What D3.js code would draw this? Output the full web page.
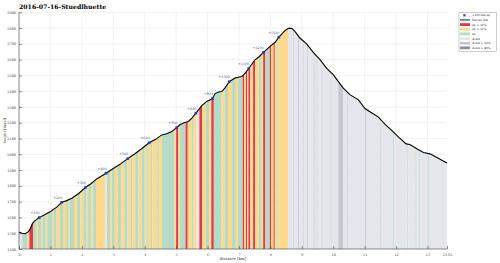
<!DOCTYPE html>
<html>
<head>
    <title>2016-07-16-Stuedlhuette</title>
    <style type="text/css">
        body { margin: 0; background: #fff; }
        svg text { font-family: "DejaVu Serif", "Liberation Serif", serif; }
        .grid line { stroke: #e9e9e9; stroke-width: 0.6; }
        .axis text { font-size: 3.4px; fill: #333; }
        .axis path, .axis line { stroke: #444; stroke-width: 0.6; }
    </style>
</head>
<body>
<script src="https://d3js.org/d3.v7.min.js" type="text/javascript"></script>
<script type="text/javascript">

    // profile: distance [km] and barometric height [masl]
    var profileKm = [0, 0.1, 0.2, 0.3, 0.36, 0.43, 0.5, 0.64, 0.8, 1.0, 1.2, 1.36, 1.5, 1.68, 1.9, 2.12,
        2.3, 2.47, 2.6, 2.77, 3.0, 3.2, 3.46, 3.7, 3.9, 4.14, 4.35, 4.54, 4.7, 4.86, 5.02, 5.12, 5.25,
        5.39, 5.5, 5.63, 5.81, 5.97, 6.15, 6.24, 6.35, 6.45, 6.55, 6.69, 6.87, 7.0, 7.09, 7.2, 7.31,
        7.51, 7.65, 7.77, 7.99, 8.15, 8.27, 8.47, 8.57, 8.68, 8.78, 8.94, 9.16, 9.37, 9.58, 9.79, 10.0,
        10.11, 10.32, 10.53, 10.8, 11.01, 11.23, 11.44, 11.65, 11.86, 12.07, 12.32, 12.44, 12.66, 12.87,
        13.08, 13.3, 13.5, 13.62];
    var profileHm = [1508, 1500, 1497, 1510, 1530, 1563, 1578, 1599, 1615, 1637, 1665, 1696, 1705, 1722,
        1752, 1791, 1815, 1844, 1860, 1880, 1910, 1935, 1973, 2005, 2035, 2073, 2095, 2123, 2130, 2144,
        2170, 2187, 2200, 2208, 2230, 2261, 2307, 2335, 2352, 2385, 2395, 2398, 2420, 2460, 2483, 2490,
        2493, 2515, 2544, 2599, 2620, 2645, 2684, 2710, 2743, 2785, 2798, 2798, 2779, 2737, 2698, 2645,
        2600, 2545, 2505, 2475, 2420, 2378, 2345, 2290, 2262, 2236, 2190, 2152, 2110, 2066, 2062, 2035,
        2012, 2003, 1980, 1958, 1945];

    // +100 hm up markers
    var upKm = [0.64, 1.36, 2.12, 2.77, 3.46, 4.14, 5.02, 5.63, 6.15, 6.69, 7.31, 7.77, 8.27];
    var upHm = [1599, 1696, 1791, 1880, 1973, 2073, 2170, 2261, 2352, 2460, 2544, 2645, 2743];
    var upLabels = ['+100', '+200', '+300', '+400', '+500', '+600', '+700', '+800', '+900',
        '+1000', '+1100', '+1200', '+1300'];

    // gradient bands: start [km] and class, each band ends where the next starts
    var bandStart = [0, 0.1, 0.26, 0.33, 0.45, 0.55, 0.6, 0.7, 0.75, 0.85, 0.9, 1.05, 1.1, 1.2, 1.3,
        1.4, 1.5, 1.58, 1.62, 1.75, 1.85, 1.95, 2.05, 2.15, 2.2, 2.3, 2.35, 2.45, 2.75, 2.8, 2.9, 2.95,
        3.05, 3.15, 3.25, 3.35, 3.45, 3.55, 3.6, 3.7, 3.8, 3.9, 4.0, 4.05, 4.1, 4.2, 4.25, 4.4, 4.45,
        4.55, 4.95, 5.0, 5.07, 5.12, 5.3, 5.37, 5.5, 5.55, 5.65, 5.74, 5.83, 5.95, 6.05, 6.12, 6.2,
        6.45, 6.55, 6.65, 6.78, 6.9, 6.97, 7.12, 7.17, 7.22, 7.26, 7.3, 7.36, 7.45, 7.52, 7.62, 7.7,
        7.77, 7.84, 7.98, 8.02, 8.1, 8.14, 8.22, 8.26, 8.56,
        8.73, 8.76, 8.88, 8.91, 9.05, 9.08, 9.16, 9.19, 9.38, 9.41, 9.47, 9.5, 9.63, 9.66, 9.92, 9.95,
        10.16, 10.32, 10.45, 10.48, 11.01, 11.04, 11.5, 11.53, 11.91, 11.94, 12.36, 12.39, 12.62,
        12.65, 12.74, 12.77, 13.01, 13.04];
    var bandClass = ['dn', 'up', 'u15', 'u30', 'up', 'u15', 'up', 'u15', 'up', 'u15', 'up', 'u15', 'up',
        'u15', 'up', 'u15', 'up', 'u15', 'up', 'u15', 'up', 'u15', 'up', 'u15', 'up', 'u15', 'up', 'u15',
        'dn', 'up', 'u15', 'up', 'u15', 'up', 'u15', 'up', 'u15', 'up', 'u15', 'up', 'u15', 'up', 'u15',
        'up', 'u15', 'up', 'u15', 'up', 'u15', 'up', 'u15', 'u30', 'u15', 'up', 'u30', 'u15', 'up', 'u15',
        'dn', 'u30', 'u15', 'up', 'u15', 'u30', 'up', 'u15', 'up', 'u15', 'up', 'u15', 'up', 'u30', 'u15',
        'u30', 'u15', 'u30', 'u15', 'u30', 'u15', 'up', 'u15', 'u30', 'up', 'u30', 'u15', 'u30', 'u15',
        'up', 'u15', 'dn',
        'd20', 'dn', 'd20', 'dn', 'd20', 'dn', 'd20', 'dn', 'd20', 'dn', 'd20', 'dn', 'd20', 'dn', 'd20',
        'dn', 'd20', 'dn', 'd20', 'dn', 'd20', 'dn', 'd20', 'dn', 'up', 'dn', 'up', 'dn', 'up', 'dn',
        'up', 'dn', 'up', 'dn'];

    var classColor = { u30: '#e23a4b', u15: '#fcd98c', up: '#b6dac6', dn: '#e5e6ec', d20: '#c6c8d1', d45: '#8b8e9b' };

    var legendLabels = ['+100 hm up', 'barom. hm', 'up > 30%', 'up > 15%', 'up', 'down', 'down > 20%', 'down > 45%'];
    var legendKeys = ['marker', 'line', 'u30', 'u15', 'up', 'dn', 'd20', 'd45'];

    var xTicks = [0, 1, 2, 3, 4, 5, 6, 7, 8, 9, 10, 11, 12, 13, 13.62];
    var yTicks = d3.range(1400, 2901, 100);

    var W = 500, H = 263;
    var x = d3.scaleLinear().domain([0, 13.62]).range([19, 447]);
    var y = d3.scaleLinear().domain([1400, 2900]).range([249, 12.3]);

    var svg = d3.select('body').append('svg')
        .attr('width', W).attr('height', H)
        .attr('viewBox', '0 0 ' + W + ' ' + H);

    var profile = profileKm.map(function (d, i) { return [d, profileHm[i]]; });

    // grid
    var grid = svg.append('g').attr('class', 'grid');
    grid.selectAll('line.v').data(xTicks.slice(0, 14)).enter().append('line')
        .attr('x1', function (d) { return x(d); }).attr('x2', function (d) { return x(d); })
        .attr('y1', y(1400)).attr('y2', y(2900));
    grid.selectAll('line.h').data(yTicks).enter().append('line')
        .attr('x1', x(0)).attr('x2', x(13.62))
        .attr('y1', function (d) { return y(d); }).attr('y2', function (d) { return y(d); });

    // clip for the bands: area under the profile
    var area = d3.area().x(function (d) { return x(d[0]); }).y0(y(1400)).y1(function (d) { return y(d[1]); });
    svg.append('clipPath').attr('id', 'under').append('path').datum(profile).attr('d', area);

    var bands = bandStart.map(function (s, i) {
        return { s: s, e: i < bandStart.length - 1 ? bandStart[i + 1] : 13.62, c: bandClass[i] };
    });
    svg.append('g').attr('clip-path', 'url(#under)')
        .selectAll('rect').data(bands).enter().append('rect')
        .attr('x', function (d) { return x(d.s); })
        .attr('width', function (d) { return x(d.e) - x(d.s); })
        .attr('y', y(2900)).attr('height', y(1400) - y(2900))
        .attr('fill', function (d) { return classColor[d.c]; });

    // profile line
    svg.append('path').datum(profile)
        .attr('d', d3.line().x(function (d) { return x(d[0]); }).y(function (d) { return y(d[1]); }))
        .attr('fill', 'none').attr('stroke', '#000').attr('stroke-width', 1.1);

    // axes
    svg.append('g').attr('class', 'axis').attr('transform', 'translate(0,' + y(1400) + ')')
        .call(d3.axisBottom(x).tickValues(xTicks).tickSize(-3).tickPadding(5)
            .tickFormat(function (d) { return d === 13.62 ? '13.62' : d3.format('d')(d); }));
    svg.append('g').attr('class', 'axis').attr('transform', 'translate(' + x(0) + ',0)')
        .call(d3.axisLeft(y).tickValues(yTicks).tickSize(-3).tickPadding(3).tickFormat(d3.format('d')));
    svg.selectAll('.axis .domain').attr('d', null);
    svg.append('line').attr('x1', x(0)).attr('x2', x(0)).attr('y1', y(1400)).attr('y2', y(2900))
        .attr('stroke', '#444').attr('stroke-width', 0.6);
    svg.append('line').attr('x1', x(0)).attr('x2', x(13.62)).attr('y1', y(1400)).attr('y2', y(1400))
        .attr('stroke', '#444').attr('stroke-width', 0.6);

    // markers
    var mk = svg.append('g');
    mk.selectAll('rect').data(upKm).enter().append('rect')
        .attr('x', function (d) { return x(d) - 1.3; })
        .attr('y', function (d, i) { return y(upHm[i]) - 1.3; })
        .attr('width', 2.6).attr('height', 2.6).attr('fill', '#1f3fbf');
    mk.selectAll('text').data(upKm).enter().append('text')
        .attr('x', function (d) { return x(d) + 0.5; })
        .attr('y', function (d, i) { return y(upHm[i]) - 3.5; })
        .attr('text-anchor', 'end').attr('font-size', 3.3).attr('fill', '#33407a')
        .text(function (d, i) { return upLabels[i]; });

    // titles
    svg.append('text').attr('x', 19).attr('y', 8.5).attr('font-size', 6.2).attr('font-weight', 'bold')
        .text('2016-07-16-Stuedlhuette');
    svg.append('text').attr('x', (x(0) + x(13.62)) / 2).attr('y', 260).attr('text-anchor', 'middle')
        .attr('font-size', 3.8).attr('fill', '#333').text('distance [km]');
    svg.append('text').attr('transform', 'translate(6,' + (y(1400) + y(2900)) / 2 + ') rotate(-90)')
        .attr('text-anchor', 'middle').attr('font-size', 3.8).attr('fill', '#333').text('height [masl]');

    // legend
    var lg = svg.append('g').attr('transform', 'translate(459,12.7)');
    lg.append('rect').attr('width', 37.7).attr('height', 39).attr('fill', '#fff')
        .attr('stroke', '#999').attr('stroke-width', 0.5);
    var rows = lg.selectAll('g').data(legendKeys).enter().append('g')
        .attr('transform', function (d, i) { return 'translate(0,' + (2.6 + i * 4.65) + ')'; });
    rows.each(function (d) {
        var g = d3.select(this);
        if (d === 'marker') {
            g.append('rect').attr('x', 4.3).attr('y', -1.1).attr('width', 2.2).attr('height', 2.2).attr('fill', '#1f3fbf');
        } else if (d === 'line') {
            g.append('line').attr('x1', 1).attr('x2', 11).attr('stroke', '#000').attr('stroke-width', 0.9);
        } else {
            g.append('rect').attr('x', 1).attr('y', -1.4).attr('width', 10).attr('height', 2.8).attr('fill', classColor[d]);
        }
    });
    rows.append('text').attr('x', 13).attr('y', 1).attr('font-size', 2.9).attr('fill', '#222')
        .text(function (d, i) { return legendLabels[i]; });

</script>
</body>
</html>
